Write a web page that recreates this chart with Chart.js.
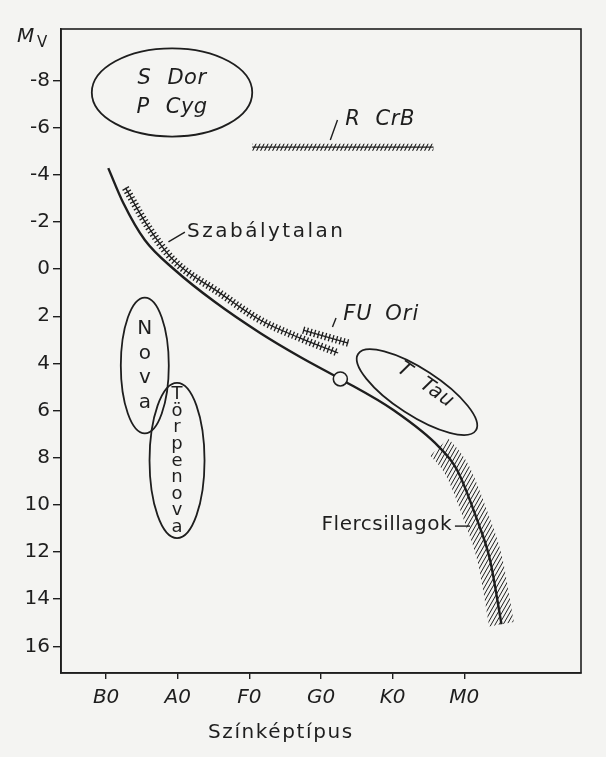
<!DOCTYPE html>
<html>
<head>
<meta charset="utf-8">
<script src="https://cdn.jsdelivr.net/npm/chart.js@4.4.1/dist/chart.umd.min.js"></script>
<style>
  html, body { margin: 0; padding: 0; background: #f4f4f2; }
  #wrap { width: 606px; height: 757px; }
</style>
</head>
<body>
<div id="wrap"><canvas id="chart"></canvas></div>
<script>
// x: spectral class (B0 = 0 ... M0 = 5), y: absolute magnitude Mv
const classNames = ['B0', 'A0', 'F0', 'G0', 'K0', 'M0'];
const classPos = [0, 1, 2, 3, 4, 5];
const magTicks = [-8, -6, -4, -2, 0, 2, 4, 6, 8, 10, 12, 14, 16];

// main sequence
const msX = [0.03, 0.24, 0.54, 0.96, 1.52, 2.15, 2.71, 3.27, 4.01, 4.65, 4.90, 5.18, 5.36, 5.52];
const msY = [-4.28, -2.80, -1.23, 0.04, 1.40, 2.71, 3.73, 4.66, 5.98, 7.55, 8.52, 10.64, 12.34, 15.06];
const flareFrom = 9; // flare star hatching starts at this point

// irregular variables (hatched strip above the main sequence)
const irregX = [0.27, 0.59, 0.94, 1.59, 2.15, 2.71, 3.24];
const irregY = [-3.44, -1.78, -0.38, 1.02, 2.16, 2.93, 3.56];
const fuOriX = [2.75, 3.38];
const fuOriY = [2.59, 3.14];
const rcrbX = [2.04, 4.57];
const rcrbY = [-5.17, -5.17];
const sunX = 3.27;
const sunY = 4.66;

// closed regions: centre, half sizes in axis units, tilt in degrees
const regions = [
  { x: 0.92, y: -7.49, rx: 1.12, ry: 1.87, rot: 0 },   // S Dor, P Cyg
  { x: 0.54, y: 4.09, rx: 0.335, ry: 2.88, rot: 0 },   // Nova
  { x: 0.99, y: 8.12, rx: 0.384, ry: 3.29, rot: 0 },   // Törpe nova
  { x: 4.34, y: 5.22, rx: 0.98, ry: 0.98, rot: 33 }    // T Tau
];

const labels = [
  { text: 'S Dor', x: 0.92, y: -8.10, size: 21, italic: true, spacing: 0.5, words: 9, align: 'center' },
  { text: 'P Cyg', x: 0.92, y: -6.87, size: 21, italic: true, spacing: 0.5, words: 9, align: 'center' },
  { text: 'R CrB', x: 3.34, y: -6.32, size: 21, italic: true, spacing: 0.5, words: 8 },
  { text: 'Szabálytalan', x: 1.13, y: -1.57, size: 20, spacing: 2.5 },
  { text: 'FU Ori', x: 3.31, y: 1.95, size: 21, italic: true, spacing: 1, words: 5 },
  { text: 'T Tau', x: 4.46, y: 4.92, size: 20, italic: true, spacing: 0.5, words: 8, align: 'center', rot: 35 },
  { text: 'Nova', x: 0.54, y: 4.11, size: 20, stack: 24.5 },
  { text: 'Törpe nova', x: 0.99, y: 8.14, size: 18, stack: 16.6 },
  { text: 'Flercsillagok', x: 4.83, y: 10.86, size: 20, spacing: 0.5, align: 'right' }
];

// short leader strokes next to the labels: x1, y1, x2, y2
const leaders = [
  [0.87, -1.15, 1.10, -1.57],
  [3.13, -5.47, 3.23, -6.32],
  [3.16, 2.46, 3.21, 2.08],
  [4.87, 10.90, 5.08, 10.90]
];

const paper = '#f4f4f2';
const ink = '#1e1e1e';
const font = '"DejaVu Sans", sans-serif';

const pts = (xs, ys) => xs.map((x, i) => ({ x, y: ys[i] }));

function hatch(w, h, dir, lw) {
  const c = document.createElement('canvas');
  c.width = w; c.height = h;
  const g = c.getContext('2d');
  g.strokeStyle = ink;
  g.lineWidth = lw;
  g.beginPath();
  for (const o of [-w, 0, w]) {
    if (dir > 0) { g.moveTo(o, h); g.lineTo(o + w, 0); }
    else { g.moveTo(o, 0); g.lineTo(o + w, h); }
  }
  g.stroke();
  return g.createPattern(c, 'repeat');
}
const slashFill = hatch(4, 8, 1, 1.1);
const flareFill = hatch(4, 7, 1, 1);

function line(data, extra) {
  return Object.assign({
    data, borderColor: ink, borderWidth: 1.3, pointRadius: 0, fill: false,
    cubicInterpolationMode: 'monotone'
  }, extra);
}

const datasets = [
  line([{ x: sunX, y: sunY }], { showLine: false, pointRadius: 7, backgroundColor: paper, borderWidth: 1.6 }),
  line(pts(msX, msY), { borderWidth: 2.4 }),
  line(pts(msX, msY), {
    borderWidth: 25,
    segment: { borderColor: c => c.p0DataIndex >= flareFrom ? flareFill : 'rgba(0,0,0,0)' }
  }),
  line(pts(irregX, irregY), {}),
  line(pts(irregX, irregY), { borderWidth: 7.5, borderDash: [1.3, 2.5] }),
  line(pts(fuOriX, fuOriY), {}),
  line(pts(fuOriX, fuOriY), { borderWidth: 7.5, borderDash: [1.3, 2.5] }),
  line(pts(rcrbX, rcrbY), { borderWidth: 1.1 }),
  line(pts(rcrbX, rcrbY), { borderWidth: 7, borderColor: slashFill })
].concat(leaders.map(l => line([{ x: l[0], y: l[1] }, { x: l[2], y: l[3] }], { borderWidth: 1.4 })));

const drawing = {
  id: 'drawing',
  beforeDatasetsDraw(chart) {
    const { ctx, chartArea: a, scales: { x, y } } = chart;
    ctx.save();
    ctx.strokeStyle = ink;
    ctx.lineWidth = 1.6;
    ctx.strokeRect(a.left, a.top, a.right - a.left, a.bottom - a.top);
    ctx.lineWidth = 1.8;
    regions.forEach(r => {
      const cx = x.getPixelForValue(r.x), cy = y.getPixelForValue(r.y);
      const rx = Math.abs(x.getPixelForValue(r.x + r.rx) - cx);
      const ry = Math.abs(y.getPixelForValue(r.y + r.ry) - cy);
      ctx.beginPath();
      ctx.ellipse(cx, cy, rx, ry, r.rot * Math.PI / 180, 0, Math.PI * 2);
      ctx.stroke();
    });
    ctx.restore();
  },
  afterDatasetsDraw(chart) {
    const { ctx, chartArea: a, scales: { x, y } } = chart;
    labels.forEach(t => {
      ctx.save();
      ctx.translate(x.getPixelForValue(t.x), y.getPixelForValue(t.y));
      if (t.rot) ctx.rotate(t.rot * Math.PI / 180);
      ctx.font = (t.italic ? 'italic ' : '') + t.size + 'px ' + font;
      ctx.letterSpacing = (t.spacing || 0) + 'px';
      ctx.wordSpacing = (t.words || 0) + 'px';
      ctx.fillStyle = ink;
      ctx.textBaseline = 'middle';
      if (t.stack) {
        const chars = [...t.text].filter(ch => ch !== ' ');
        ctx.textAlign = 'center';
        chars.forEach((ch, i) => ctx.fillText(ch, 0, (i - (chars.length - 1) / 2) * t.stack));
      } else {
        ctx.textAlign = t.align || 'left';
        ctx.fillText(t.text, 0, 0);
      }
      ctx.restore();
    });
    // axis titles
    ctx.save();
    ctx.fillStyle = ink;
    ctx.textBaseline = 'alphabetic';
    ctx.font = 'italic 20px ' + font;
    ctx.fillText('M', a.left - 44, a.top + 13);
    ctx.font = '15px ' + font;
    ctx.fillText('V', a.left - 24, a.top + 18);
    ctx.font = '20px ' + font;
    ctx.letterSpacing = '1.6px';
    ctx.textAlign = 'center';
    ctx.textBaseline = 'middle';
    ctx.fillText('Színképtípus', x.getPixelForValue(2.44), a.bottom + 60);
    ctx.restore();
  }
};

new Chart(document.getElementById('chart'), {
  type: 'line',
  data: { datasets },
  options: {
    responsive: true,
    maintainAspectRatio: false,
    animation: false,
    layout: { padding: { top: 29, right: 25, left: 0, bottom: 0 } },
    plugins: { legend: { display: false }, tooltip: { enabled: false } },
    scales: {
      x: {
        type: 'linear', min: -0.63, max: 6.63,
        afterBuildTicks: s => { s.ticks = classPos.map(v => ({ value: v })); },
        afterFit: s => { s.height = 84; },
        grid: { drawOnChartArea: false, drawTicks: true, tickLength: 6, color: ink, lineWidth: 1.4 },
        border: { display: true, color: ink, width: 1.6 },
        ticks: {
          autoSkip: false, maxRotation: 0, padding: 7, color: ink,
          font: { family: font, size: 20, style: 'italic' },
          callback: v => classNames[classPos.indexOf(v)]
        }
      },
      y: {
        type: 'linear', reverse: true, min: -10.18, max: 17.13,
        afterBuildTicks: s => { s.ticks = magTicks.map(v => ({ value: v })); },
        afterFit: s => { s.width = 61; },
        grid: { drawOnChartArea: false, drawTicks: true, tickLength: 8, color: ink, lineWidth: 1.4 },
        border: { display: true, color: ink, width: 1.6 },
        ticks: {
          autoSkip: false, padding: 3, color: ink,
          font: { family: font, size: 20 },
          callback: v => String(v)
        }
      }
    }
  },
  plugins: [drawing]
});
</script>
</body>
</html>
